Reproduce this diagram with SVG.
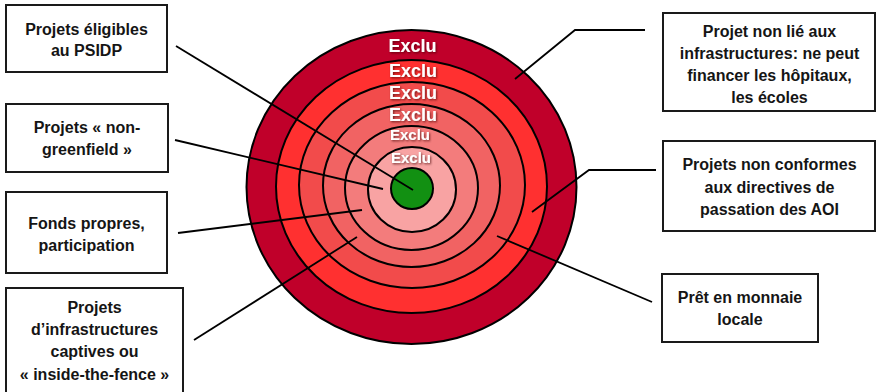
<svg xmlns="http://www.w3.org/2000/svg" width="877" height="392" viewBox="0 0 877 392">
<defs>
<style>
.box{fill:#fff;stroke:#1a1a1a;stroke-width:2}
.lbl{font-family:"Liberation Sans",Arial,sans-serif;font-weight:bold;font-size:16px;fill:#151515;text-anchor:middle}
.ring{stroke:#000;stroke-width:2}
.ex{font-family:"Liberation Sans",Arial,sans-serif;font-weight:bold;fill:#fff;text-anchor:middle;filter:url(#sh)}
.con{fill:none;stroke:#000;stroke-width:1.8}
</style>
<filter id="sh" x="-20%" y="-30%" width="140%" height="160%">
<feDropShadow dx="1" dy="1.2" stdDeviation="0.8" flood-color="#400000" flood-opacity="0.7"/>
</filter>
</defs>
<g id="target">
<ellipse class="ring" cx="411.5" cy="187" rx="165" ry="157" fill="#C0002A"/>
<ellipse class="ring" cx="411.5" cy="186.5" rx="135.5" ry="126.5" fill="#FF3030"/>
<ellipse class="ring" cx="412" cy="185" rx="113" ry="103" fill="#F24B4B"/>
<ellipse class="ring" cx="411.5" cy="185.5" rx="88.5" ry="81.5" fill="#F16363"/>
<ellipse class="ring" cx="411.5" cy="188" rx="66.5" ry="62" fill="#F37C7C"/>
<ellipse class="ring" cx="412" cy="189.5" rx="44" ry="42.5" fill="#F8A3A3"/>
<ellipse class="ring" cx="412" cy="188.5" rx="21" ry="20.5" fill="#129012"/>
<text class="ex" x="412.5" y="52" font-size="18">Exclu</text>
<text class="ex" x="413" y="77" font-size="18">Exclu</text>
<text class="ex" x="413" y="99" font-size="18">Exclu</text>
<text class="ex" x="413" y="121" font-size="18">Exclu</text>
<text class="ex" x="410" y="140" font-size="15">Exclu</text>
<text class="ex" x="411" y="163" font-size="15">Exclu</text>
</g>
<g id="connectors">
<line class="con" x1="176" y1="46" x2="413" y2="190"/>
<line class="con" x1="175" y1="140" x2="383" y2="189"/>
<line class="con" x1="178" y1="233" x2="362" y2="210"/>
<line class="con" x1="194" y1="340" x2="357" y2="237"/>
<polyline class="con" points="515,79 575,30 645,30"/>
<polyline class="con" points="532,212 589,170 656,170"/>
<line class="con" x1="497" y1="236" x2="652" y2="302"/>
</g>
<g id="n1">
<rect class="box" x="6" y="5" width="161" height="67"/>
<text class="lbl" x="86.5" y="35">Projets éligibles</text>
<text class="lbl" x="86.5" y="56">au PSIDP</text>
</g>
<g id="n2">
<rect class="box" x="6" y="104" width="162" height="68"/>
<text class="lbl" x="87" y="133">Projets « non-</text>
<text class="lbl" x="87" y="155">greenfield »</text>
</g>
<g id="n3">
<rect class="box" x="6" y="192" width="161" height="81"/>
<text class="lbl" x="86.5" y="229">Fonds propres,</text>
<text class="lbl" x="86.5" y="251">participation</text>
</g>
<g id="n4">
<rect class="box" x="6" y="288" width="177" height="110"/>
<text class="lbl" x="94.5" y="313">Projets</text>
<text class="lbl" x="94.5" y="335">d’infrastructures</text>
<text class="lbl" x="94.5" y="357">captives ou</text>
<text class="lbl" x="94.5" y="380">« inside-the-fence »</text>
</g>
<g id="n5">
<rect class="box" x="663" y="13" width="212" height="98"/>
<text class="lbl" x="769.5" y="37">Projet non lié aux</text>
<text class="lbl" x="769.5" y="59">infrastructures: ne peut</text>
<text class="lbl" x="769.5" y="81">financer les hôpitaux,</text>
<text class="lbl" x="769.5" y="103">les écoles</text>
</g>
<g id="n6">
<rect class="box" x="663" y="141" width="212" height="90"/>
<text class="lbl" x="769.5" y="170">Projets non conformes</text>
<text class="lbl" x="769.5" y="192.5">aux directives de</text>
<text class="lbl" x="769.5" y="215">passation des AOI</text>
</g>
<g id="n7">
<rect class="box" x="662" y="274" width="156" height="68"/>
<text class="lbl" x="740" y="303">Prêt en monnaie</text>
<text class="lbl" x="740" y="325">locale</text>
</g>
</svg>
